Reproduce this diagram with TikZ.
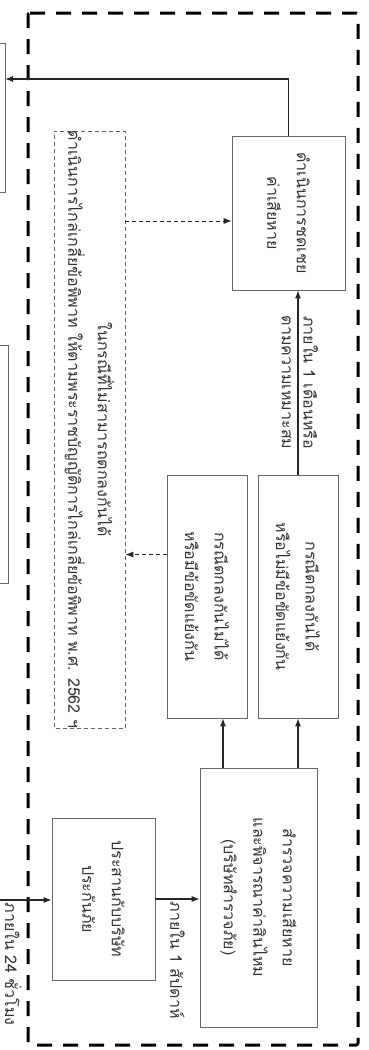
\documentclass[tikz,border=0pt]{standalone}
\usepackage{fontspec}
\newfontfamily\thaifont[Script=Thai]{Loma}
\usetikzlibrary{arrows.meta,calc}

\newcommand{\thaitext}{\thaifont\fontsize{16}{29.5}\selectfont}

\tikzset{
  box/.style={draw=black!60, line width=0.6pt, align=center, inner sep=0pt, font=\thaitext, text=black!80},
  mediabox/.style={box, dash pattern=on 4pt off 3pt},
  arr/.style={-{Latex[length=8pt,width=6pt]}, line width=1.2pt, draw=black!85},
  darr/.style={arr, line width=0.9pt, dash pattern=on 4pt off 3pt},
  tag/.style={font=\thaitext, text=black!80, align=center, inner sep=2pt}
}

\begin{document}
\begin{tikzpicture}[x=1pt,y=1pt]
    \useasboundingbox (0,-1050) rectangle (368,0);
    \clip (0,-1050) rectangle (368,0);

    % whole chart is laid out sideways
    \begin{scope}[rotate=-90, transform shape]

    % big dashed frame
    \draw[black, line width=3pt, dash pattern=on 15pt off 11pt, rounded corners=2pt] (13,28) rectangle (1045,358);

    % boxes of the next step (cut by the page)
    \draw[black!60, line width=0.6pt] (43,-40) rectangle (192,5);
    \draw[black!60, line width=0.6pt] (345,-40) rectangle (583,8);
    \coordinate (prevA) at (117.5,5);

    % steps
    \node[box, minimum width=154, minimum height=113] (comp) at (213,288.5) {ดำเนินการชดเชย\\ค่าเสียหาย};
    \node[mediabox, minimum width=577, minimum height=71] (mediate) at (429.5,89.5)
        {ในกรณีที่ไม่สามารถตกลงกันได้\\ดำเนินการไกล่เกลี่ยข้อพิพาท ให้ตามพระราชบัญญัติการไกล่เกลี่ยข้อพิพาท พ.ศ. 2562 ฯ};
    \node[box, minimum width=243, minimum height=80] (nodeal) at (596.5,207) {กรณีตกลงกันไม่ได้\\หรือมีข้อขัดแย้งกัน};
    \node[box, minimum width=243, minimum height=80] (deal) at (596.5,298) {กรณีตกลงกันได้\\หรือไม่มีข้อขัดแย้งกัน};
    \node[box, minimum width=259, minimum height=117] (survey) at (897.5,258.5) {สำรวจความเสียหาย\\และพิจารณาค่าสินไหม\\(บริษัทสำรวจภัย)};
    \node[box, minimum width=162, minimum height=103] (coord) at (899,103.5) {ประสานกับบริษัท\\ประกันภัย};

    % arrows
    \coordinate (bend) at (79,288.5);
    \draw[arr] (comp.west) -- (bend) -- (bend |- prevA);
    \draw[darr] ($(comp.south |- mediate.north)+(8,0)$) -- ($(comp.south)+(8,0)$);
    \draw[darr] ($(nodeal.south)+(-42,0)$) -- ($(nodeal.south |- mediate.north)+(-42,0)$);
    \draw[arr] (deal.west) -- (deal.west -| comp.east)
        node[midway, above=3pt, tag] {ภายใน 1 เดือนหรือ}
        node[midway, below=4pt, tag] {ตามความเหมาะสม};
    \draw[arr] (survey.west |- deal.east) -- (deal.east);
    \draw[arr] ($(survey.west |- nodeal.east)+(0,16)$) -- ($(nodeal.east)+(0,16)$);
    \draw[arr] (coord.north) -- (coord.north |- survey.south)
        node[midway, right, tag] {ภายใน 1 สัปดาห์};
    \coordinate (incoming) at (900,-10);
    \draw[arr] (incoming) -- (incoming |- coord.south)
        node[pos=0.2, anchor=south west, tag] {ภายใน 24 ชั่วโมง};

    \end{scope}
\end{tikzpicture}
\end{document}
